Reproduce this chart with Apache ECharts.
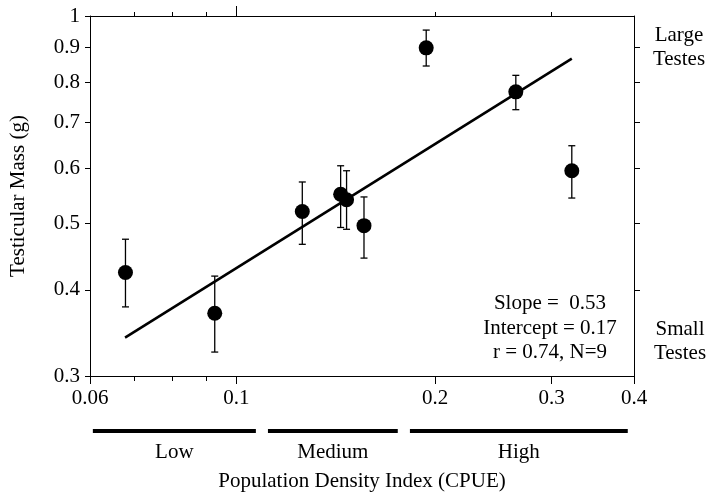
<!DOCTYPE html>
<html>
<head>
<meta charset="utf-8">
<script src="https://cdn.jsdelivr.net/npm/echarts@6/dist/echarts.min.js"></script>
<style>
html,body{margin:0;padding:0;background:#fff;}
#main{width:707px;height:494px;}
</style>
</head>
<body>
<div id="main"></div>
<script>
// ---- data ----
const xVals  = [0.0679, 0.0927, 0.1258, 0.1438, 0.1468, 0.1560, 0.1938, 0.2649, 0.3220];
const yMean  = [0.424, 0.370, 0.520, 0.551, 0.541, 0.496, 0.899, 0.776, 0.596];
const yLow   = [0.378, 0.325, 0.466, 0.493, 0.490, 0.445, 0.846, 0.731, 0.544];
const yHigh  = [0.474, 0.419, 0.574, 0.606, 0.596, 0.546, 0.954, 0.820, 0.648];
const fitX   = [0.0678, 0.3220];
const fitY   = [0.341, 0.867];
const catNames = ['Low', 'Medium', 'High'];
const catStart = [0.0606, 0.1116, 0.1831];
const catEnd   = [0.1070, 0.1755, 0.3914];
const xTickLabels = [0.06, 0.1, 0.2, 0.3, 0.4];
const xMinorTicks = [0.07, 0.08, 0.09];
const yTickLabels = [0.3, 0.4, 0.5, 0.6, 0.7, 0.8, 0.9, 1];
const statsLines = ['Slope =  0.53', 'Intercept = 0.17', 'r = 0.74, N=9'];

const FONT = '"Liberation Serif", "Times New Roman", serif';
const FS = 21;
const chart = echarts.init(document.getElementById('main'), null, {renderer: 'canvas'});
const fmt = v => String(+(+v).toFixed(2));
const axisLine = {show: true, onZero: false, lineStyle: {color: '#000', width: 1}};

const points = xVals.map((x, i) => [x, yMean[i]]);
const errData = xVals.map((x, i) => [x, yLow[i], yHigh[i]]);
const fitData = fitX.map((x, i) => [x, fitY[i]]);
const catData = catNames.map((n, i) => [catStart[i], catEnd[i], n]);

const txt = (s, x, y) => ({type: 'text', x: x, y: y, silent: true,
  style: {text: s, align: 'center', verticalAlign: 'middle', fontSize: FS, fontFamily: FONT, fill: '#000'}});

const option = {
  animation: false,
  backgroundColor: '#fff',
  grid: {left: 90, right: 73, top: 16, bottom: 118, containLabel: false, outerBoundsMode: 'none'},
  xAxis: [
    {
      type: 'log', logBase: 10, min: 0.06, max: 0.4, position: 'bottom',
      axisLine: axisLine,
      axisTick: {show: true, inside: false, length: 8, customValues: xTickLabels, lineStyle: {color: '#000'}},
      axisLabel: {show: true, customValues: xTickLabels, formatter: fmt, margin: 12,
                  color: '#000', fontSize: FS, fontFamily: FONT},
      splitLine: {show: false},
      name: 'Population Density Index (CPUE)', nameLocation: 'middle', nameGap: 95,
      nameTextStyle: {color: '#000', fontSize: FS, fontFamily: FONT}
    },
    {
      type: 'log', logBase: 10, min: 0.06, max: 0.4, position: 'bottom',
      axisLine: {show: false},
      axisTick: {show: true, inside: false, length: 5, customValues: xMinorTicks, lineStyle: {color: '#000'}},
      axisLabel: {show: false}, splitLine: {show: false}
    },
    {
      type: 'log', logBase: 10, min: 0.06, max: 0.4, position: 'top',
      axisLine: axisLine,
      axisTick: {show: true, inside: false, length: 4, customValues: [0.07, 0.08, 0.09, 0.2, 0.3], lineStyle: {color: '#000'}},
      axisLabel: {show: false}, splitLine: {show: false}
    },
    {
      type: 'log', logBase: 10, min: 0.06, max: 0.4, position: 'top',
      axisLine: {show: false},
      axisTick: {show: true, inside: false, length: 10, customValues: [0.1], lineStyle: {color: '#000'}},
      axisLabel: {show: false}, splitLine: {show: false}
    }
  ],
  yAxis: [
    {
      type: 'log', logBase: 10, min: 0.3, max: 1, position: 'left',
      axisLine: axisLine,
      axisTick: {show: true, inside: false, length: 5, customValues: yTickLabels, lineStyle: {color: '#000'}},
      axisLabel: {show: true, customValues: yTickLabels, formatter: fmt, margin: 10,
                  color: '#000', fontSize: FS, fontFamily: FONT},
      splitLine: {show: false},
      name: 'Testicular Mass (g)', nameLocation: 'middle', nameGap: 61,
      nameTextStyle: {color: '#000', fontSize: FS, fontFamily: FONT}
    },
    {
      type: 'log', logBase: 10, min: 0.3, max: 1, position: 'right',
      axisLine: axisLine,
      axisTick: {show: true, inside: false, length: 6, customValues: [0.4, 0.5, 0.6, 0.7, 0.8, 0.9], lineStyle: {color: '#000'}},
      axisLabel: {show: false}, splitLine: {show: false}
    }
  ],
  series: [
    {
      type: 'line', name: 'fit', data: fitData, xAxisIndex: 0, yAxisIndex: 0,
      showSymbol: false, symbol: 'none',
      lineStyle: {color: '#000', width: 2.6, opacity: 1}, z: 2
    },
    {
      type: 'custom', name: 'err', data: errData, xAxisIndex: 0, yAxisIndex: 0,
      renderItem: function (params, api) {
        const x = api.value(0);
        const lo = api.coord([x, api.value(1)]);
        const hi = api.coord([x, api.value(2)]);
        const cap = 3.5;
        const st = {stroke: '#000', lineWidth: 1.3, fill: null};
        return {type: 'group', children: [
          {type: 'line', shape: {x1: lo[0], y1: lo[1], x2: hi[0], y2: hi[1]}, style: st},
          {type: 'line', shape: {x1: lo[0] - cap, y1: lo[1], x2: lo[0] + cap, y2: lo[1]}, style: st},
          {type: 'line', shape: {x1: hi[0] - cap, y1: hi[1], x2: hi[0] + cap, y2: hi[1]}, style: st}
        ]};
      },
      z: 3
    },
    {
      type: 'scatter', name: 'pts', data: points, xAxisIndex: 0, yAxisIndex: 0,
      symbol: 'circle', symbolSize: 15,
      itemStyle: {color: '#000', borderWidth: 0, opacity: 1}, z: 4
    },
    {
      type: 'custom', name: 'cats', data: catData, xAxisIndex: 0, yAxisIndex: 0, clip: false,
      renderItem: function (params, api) {
        const a = api.coord([api.value(0), 0.3]);
        const b = api.coord([api.value(1), 0.3]);
        const label = catNames[params.dataIndex];
        return {type: 'group', children: [
          {type: 'rect', shape: {x: a[0], y: a[1] + 53, width: b[0] - a[0], height: 4}, style: {fill: '#000'}},
          {type: 'text', style: {text: label, x: (a[0] + b[0]) / 2, y: a[1] + 76, align: 'center', verticalAlign: 'middle',
            fontSize: FS, fontFamily: FONT, fill: '#000'}}
        ]};
      }
    }
  ],
  graphic: [
    txt(statsLines[0], 550, 303),
    txt(statsLines[1], 550, 328),
    txt(statsLines[2], 550, 352),
    txt('Large', 679, 35),
    txt('Testes', 679, 59),
    txt('Small', 680, 329),
    txt('Testes', 680, 353)
  ]
};
chart.setOption(option);
</script>
</body>
</html>
